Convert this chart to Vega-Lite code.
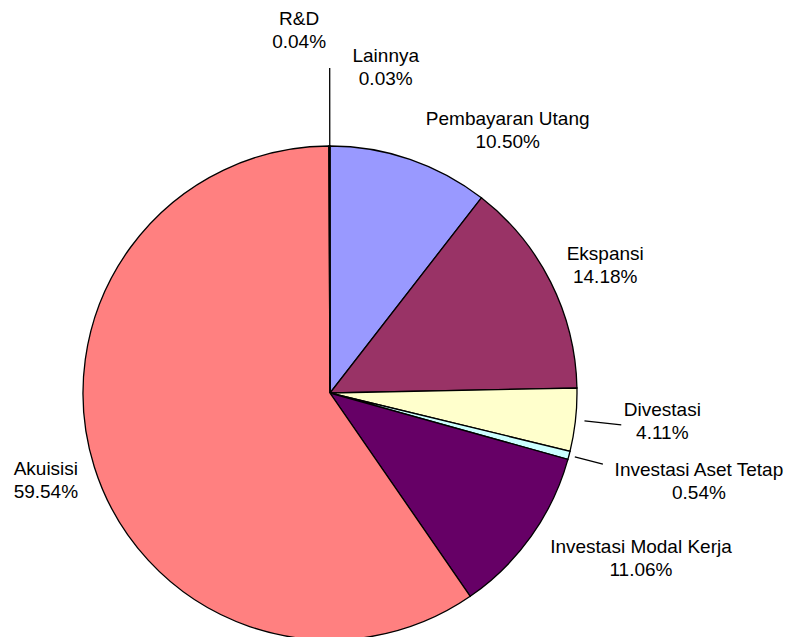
{
  "$schema": "https://vega.github.io/schema/vega-lite/v6.json",
  "width": 660,
  "height": 488,
  "padding": {"left": 0, "top": 149, "right": 127, "bottom": 0},
  "autosize": {"type": "none"},
  "background": "white",
  "view": {"stroke": null},
  "config": {"text": {"font": "Liberation Sans", "fontSize": 19, "lineHeight": 23, "fill": "#000000", "lineBreak": "\n", "align": "center", "baseline": "middle"}},
  "data": {"values": [
    {"name": "Pembayaran Utang", "value": 10.50},
    {"name": "Ekspansi", "value": 14.18},
    {"name": "Divestasi", "value": 4.11},
    {"name": "Investasi Aset Tetap", "value": 0.54},
    {"name": "Investasi Modal Kerja", "value": 11.06},
    {"name": "Akuisisi", "value": 59.54},
    {"name": "R&D", "value": 0.04},
    {"name": "Lainnya", "value": 0.03}
  ]},
  "transform": [
    {"window": [{"op": "sum", "field": "value", "as": "end"}], "frame": [null, 0]},
    {"calculate": "datum.end - datum.value", "as": "start"},
    {"calculate": "datum.end - datum.value / 2", "as": "mid"},
    {"calculate": "datum.name + '\\n' + format(datum.value, '.2f') + '%'", "as": "label"}
  ],
  "layer": [
    {
      "mark": {"type": "arc", "outerRadius": 247, "stroke": "#000000", "strokeWidth": 1.3},
      "encoding": {
        "theta": {"field": "start", "type": "quantitative", "scale": {"domain": [0, 100]}},
        "theta2": {"field": "end"},
        "color": {"field": "name", "type": "nominal", "legend": null,
          "scale": {"domain": ["Pembayaran Utang", "Ekspansi", "Divestasi", "Investasi Aset Tetap", "Investasi Modal Kerja", "Akuisisi", "R&D", "Lainnya"],
                    "range": ["#9999FF", "#993366", "#FFFFCC", "#CCFFFF", "#660066", "#FF8080", "#0066CC", "#CCCCFF"]}}
      }
    },
    {
      "transform": [{"filter": "datum.name === 'Divestasi'"}],
      "mark": {"type": "arc", "innerRadius": 256, "outerRadius": 293, "stroke": "#000000", "strokeWidth": 1.3, "fill": null},
      "encoding": {
        "theta": {"field": "mid", "type": "quantitative", "scale": {"domain": [0, 100]}},
        "theta2": {"field": "mid"}
      }
    },
    {
      "transform": [{"filter": "datum.name === 'Investasi Aset Tetap'"}],
      "mark": {"type": "arc", "innerRadius": 253, "outerRadius": 282, "stroke": "#000000", "strokeWidth": 1.3, "fill": null},
      "encoding": {
        "theta": {"field": "mid", "type": "quantitative", "scale": {"domain": [0, 100]}},
        "theta2": {"field": "mid"}
      }
    },
    {
      "transform": [{"filter": "datum.name === 'Lainnya'"}],
      "mark": {"type": "arc", "innerRadius": 247, "outerRadius": 325, "stroke": "#000000", "strokeWidth": 1.3, "fill": null},
      "encoding": {
        "theta": {"field": "mid", "type": "quantitative", "scale": {"domain": [0, 100]}},
        "theta2": {"field": "mid"}
      }
    },
    {
      "transform": [{"filter": "datum.name === 'Pembayaran Utang'"}],
      "mark": {"type": "text", "radius": 280, "dx": 87, "dy": -9},
      "encoding": {"theta": {"field": "mid", "type": "quantitative", "scale": {"domain": [0, 100]}}, "text": {"field": "label"}}
    },
    {
      "transform": [{"filter": "datum.name === 'Ekspansi'"}],
      "mark": {"type": "text", "radius": 280, "dx": 25, "dy": -13},
      "encoding": {"theta": {"field": "mid", "type": "quantitative", "scale": {"domain": [0, 100]}}, "text": {"field": "label"}}
    },
    {
      "transform": [{"filter": "datum.name === 'Divestasi'"}],
      "mark": {"type": "text", "radius": 280, "dx": 54, "dy": -13},
      "encoding": {"theta": {"field": "mid", "type": "quantitative", "scale": {"domain": [0, 100]}}, "text": {"field": "label"}}
    },
    {
      "transform": [{"filter": "datum.name === 'Investasi Aset Tetap'"}],
      "mark": {"type": "text", "radius": 280, "dx": 98, "dy": 6},
      "encoding": {"theta": {"field": "mid", "type": "quantitative", "scale": {"domain": [0, 100]}}, "text": {"field": "label"}}
    },
    {
      "transform": [{"filter": "datum.name === 'Investasi Modal Kerja'"}],
      "mark": {"type": "text", "radius": 280, "dx": 83, "dy": -9},
      "encoding": {"theta": {"field": "mid", "type": "quantitative", "scale": {"domain": [0, 100]}}, "text": {"field": "label"}}
    },
    {
      "transform": [{"filter": "datum.name === 'Akuisisi'"}],
      "mark": {"type": "text", "radius": 280, "dx": -17, "dy": -8},
      "encoding": {"theta": {"field": "mid", "type": "quantitative", "scale": {"domain": [0, 100]}}, "text": {"field": "label"}}
    },
    {
      "transform": [{"filter": "datum.name === 'R&D'"}],
      "mark": {"type": "text", "radius": 280, "dx": -30, "dy": -94},
      "encoding": {"theta": {"field": "mid", "type": "quantitative", "scale": {"domain": [0, 100]}}, "text": {"field": "label"}}
    },
    {
      "transform": [{"filter": "datum.name === 'Lainnya'"}],
      "mark": {"type": "text", "radius": 280, "dx": 56, "dy": -57},
      "encoding": {"theta": {"field": "mid", "type": "quantitative", "scale": {"domain": [0, 100]}}, "text": {"field": "label"}}
    }
  ]
}
